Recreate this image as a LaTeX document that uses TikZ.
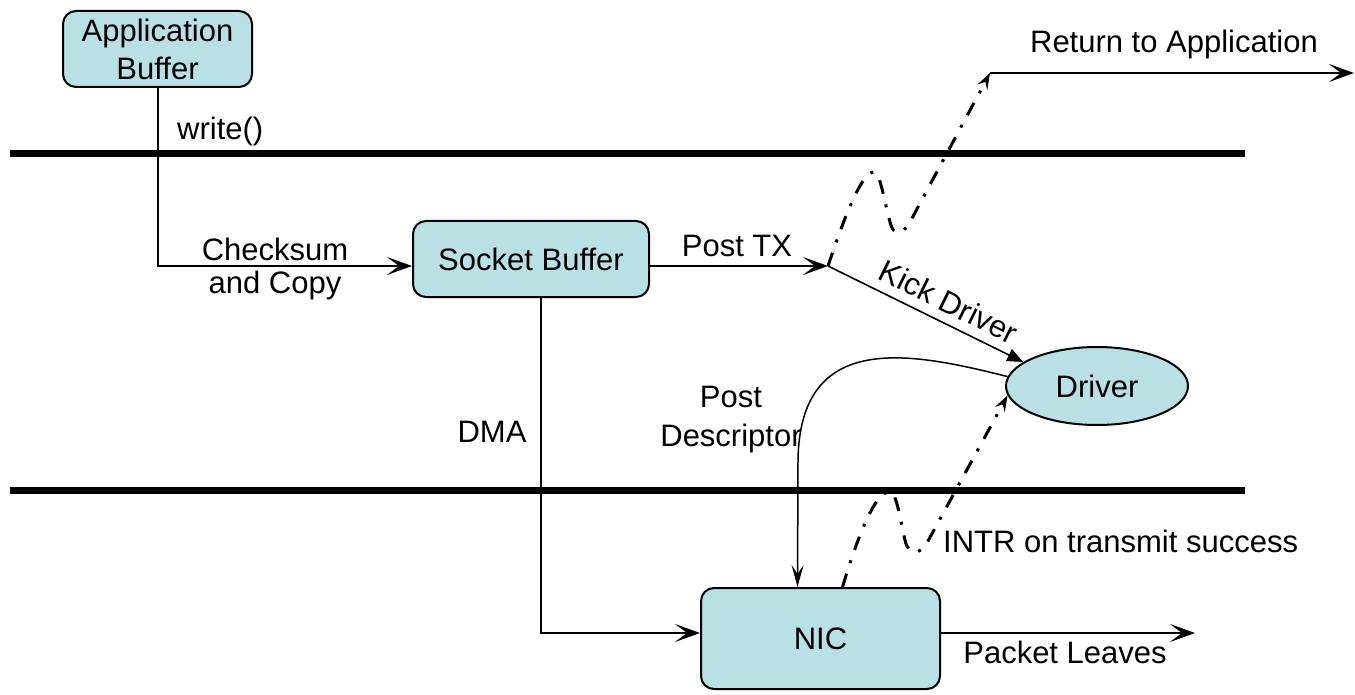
\documentclass[tikz,border=0pt]{standalone}
\usepackage{fontspec}
\setmainfont{Liberation Sans}
\usetikzlibrary{arrows.meta,shapes.geometric}
\definecolor{boxfill}{RGB}{185,224,228}

\begin{document}
\begin{tikzpicture}[x=1pt,y=-1pt,
  font=\fontsize{31}{38}\selectfont,
  box/.style={draw=black, line width=2pt, fill=boxfill, rounded corners=13pt,
    align=center, inner sep=0pt},
  layer/.style={line width=7pt},
  conn/.style={line width=2pt, -{Stealth[length=25pt,width=18pt,inset=12pt]}},
  thinconn/.style={line width=1.5pt, -{Stealth[length=22pt,width=12pt,inset=9pt]}},
  kick/.style={line width=1.6pt, -{Triangle[length=16pt,width=13pt]}},
  intr/.style={line width=3pt, dash pattern=on 14pt off 11pt on 3pt off 11pt,
    -{Stealth[length=16pt,width=11pt,inset=6pt]}},
  lbl/.style={inner sep=0pt}
]
\useasboundingbox (0,0) rectangle (1355,695);

% protection boundaries
\draw[layer] (10,154) -- (1245,154);
\draw[layer] (10,490) -- (1245,490);

% buffers and devices
\node[box, minimum width=189pt, minimum height=76pt] (app) at (157.5,49) {Application\\Buffer};
\node[box, minimum width=236pt, minimum height=76pt] (sock) at (531,259) {Socket Buffer};
\node[box, minimum width=239pt, minimum height=101pt] (nic) at (820.5,638.5) {NIC};
\node[ellipse, draw, line width=2pt, fill=boxfill, minimum width=182pt,
  minimum height=78pt, inner sep=0pt] (drv) at (1097,386) {Driver};

% junctions and free ends
\coordinate (tx) at (828,266);
\coordinate (ret) at (990,73);
\coordinate (retend) at (1354,73);
\coordinate (out) at (1195,633);

% data path
\draw[conn] (app.south) |- ([yshift=-7pt]sock.west);
\draw[conn] ([yshift=-7pt]sock.east) -- (tx);
\draw[conn] ([xshift=10pt]sock.south) |- ([yshift=5.5pt]nic.west);
\draw[conn] ([yshift=5.5pt]nic.east) -- (out);
\draw[conn] (ret) -- (retend);
\draw[kick] (tx) -- node[lbl, above=9pt, sloped, pos=0.57] (kd) {Kick Driver} (drv.162);
\draw[thinconn] (drv.174) .. controls (910,352) and (800,330) .. (798,460)
  -- ([xshift=-23pt]nic.north);

% asynchronous returns
\draw[intr] (tx) .. controls (845,215) and (862,172) .. (874,172)
  .. controls (880,172) and (884,200) .. (890,222)
  .. controls (893,236) and (902,236) .. (910,222) -- (ret);
\draw[intr] ([xshift=22pt]nic.north) .. controls (858,535) and (876,490) .. (890,492)
  .. controls (897,493) and (900,520) .. (905,540)
  .. controls (908,556) and (920,556) .. (928,541) -- (drv.186);

% labels
\node[lbl, anchor=base west] (wr) at (177,140) {write()};
\node[lbl, align=center, font=\fontsize{31}{33}\selectfont] (cs) at (275,268.5) {Checksum\\and Copy};
\node[lbl, anchor=base] (ptx) at (737,257) {Post TX};
\node[lbl, anchor=base] (rta) at (1174,53) {Return to Application};
\node[lbl, align=center, font=\fontsize{31}{39}\selectfont] (pd) at (731,419.6) {Post\\Descriptor};
\node[lbl, anchor=base] (dma) at (492,442) {DMA};
\node[lbl, anchor=base west] (intrl) at (943,552) {INTR on transmit success};
\node[lbl, anchor=base] (pl) at (1065,663) {Packet Leaves};
\end{tikzpicture}
\end{document}
